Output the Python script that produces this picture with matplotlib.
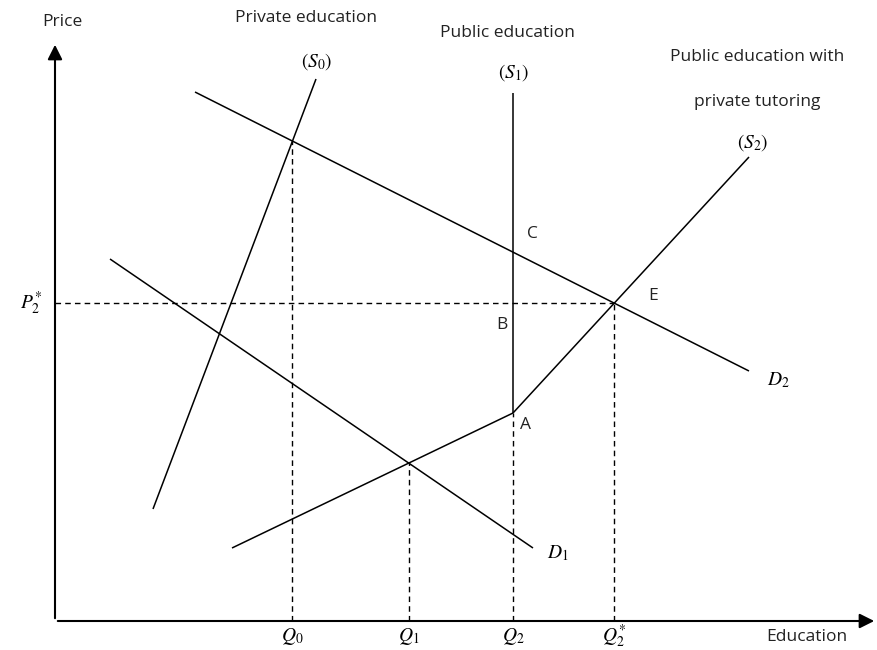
import numpy as np
import matplotlib
matplotlib.use("Agg")
import matplotlib.pyplot as plt

plt.rcParams['font.family'] = ['Open Sans', 'DejaVu Sans']
plt.rcParams['mathtext.fontset'] = 'stix'

# curve end points (quantity, price)
S0 = [(9.8, 11.2), (26.1, 54.2)]              # private education
S1 = [(45.8, 20.8), (45.8, 52.8)]             # public education
S2 = [(17.7, 7.3), (45.8, 20.8), (69.4, 46.4)]  # public + tutoring (kinked at A)
D1 = [(5.5, 36.2), (47.8, 7.3)]
D2 = [(14.0, 52.9), (69.4, 25.0)]

point_names = ["C", "B", "A", "E"]
point_pos = [(47.7, 38.7), (44.7, 29.6), (47.1, 19.6), (59.8, 32.5)]
q_labels = [r'$Q_0$', r'$Q_1$', r'$Q_2$', r'$Q_2^{*}$']


def cross(l1, l2):
    # intersection of two lines given by two points each
    (x1, y1), (x2, y2) = l1
    (x3, y3), (x4, y4) = l2
    a = np.array([[x2 - x1, -(x4 - x3)], [y2 - y1, -(y4 - y3)]])
    b = np.array([x3 - x1, y3 - y1])
    t = np.linalg.solve(a, b)[0]
    return x1 + t * (x2 - x1), y1 + t * (y2 - y1)


fig = plt.figure(figsize=(8.77, 6.5), dpi=100)
ax = fig.add_axes([0, 0, 1, 1])
ax.set_xlim(-5.5, 82.2)
ax.set_ylim(-2.9, 62.1)
ax.axis('off')

# axes with arrow heads
ax.annotate("", xy=(0, 57.9), xytext=(0, 0),
            arrowprops=dict(arrowstyle='-|>', mutation_scale=22, lw=1.5, color='black'))
ax.annotate("", xy=(82.2, 0), xytext=(0, 0),
            arrowprops=dict(arrowstyle='-|>', mutation_scale=22, lw=1.5, color='black'))

for line in [S0, S1, S2, D1, D2]:
    xs, ys = zip(*line)
    ax.plot(xs, ys, color='black', lw=1.1, solid_capstyle='butt')

# equilibria
q0 = cross(S0, D2)
q1 = cross(S2[:2], D1)
q2 = S2[1]
e = cross(S2[1:], D2)

dash = dict(color='black', lw=1.0, linestyle=(0, (4, 3)))
for x, y in [q0, q1, q2, e]:
    ax.plot([x, x], [0, y], **dash)
ax.plot([0, e[0]], [e[1], e[1]], **dash)

txt = dict(ha='center', va='center', fontsize=12.5, color='#222222')
math = dict(ha='center', va='center', fontsize=14)

for (x, y), lab in zip([q0, q1, q2, e], q_labels):
    ax.text(x, -1.55, lab, **math)
ax.text(-2.4, e[1], r'$P_2^{*}$', **math)

ax.text(75.2, -1.6, "Education", **txt)
ax.text(0.7, 59.9, "Price", **txt)

for name, (x, y) in zip(point_names, point_pos):
    ax.text(x, y, name, **txt)

ax.text(72.3, 24.1, r'$D_2$', **math)
ax.text(50.3, 6.8, r'$D_1$', **math)

ax.text(25.1, 60.3, "Private education", **txt)
ax.text(26.2, 55.9, r'$(S_0)$', **math)
ax.text(45.2, 58.8, "Public education", **txt)
ax.text(45.9, 54.8, r'$(S_1)$', **math)
ax.text(70.2, 56.4, "Public education with", **txt)
ax.text(70.2, 51.9, "private tutoring", **txt)
ax.text(69.8, 47.8, r'$(S_2)$', **math)

fig.savefig("out.png", dpi=100)
